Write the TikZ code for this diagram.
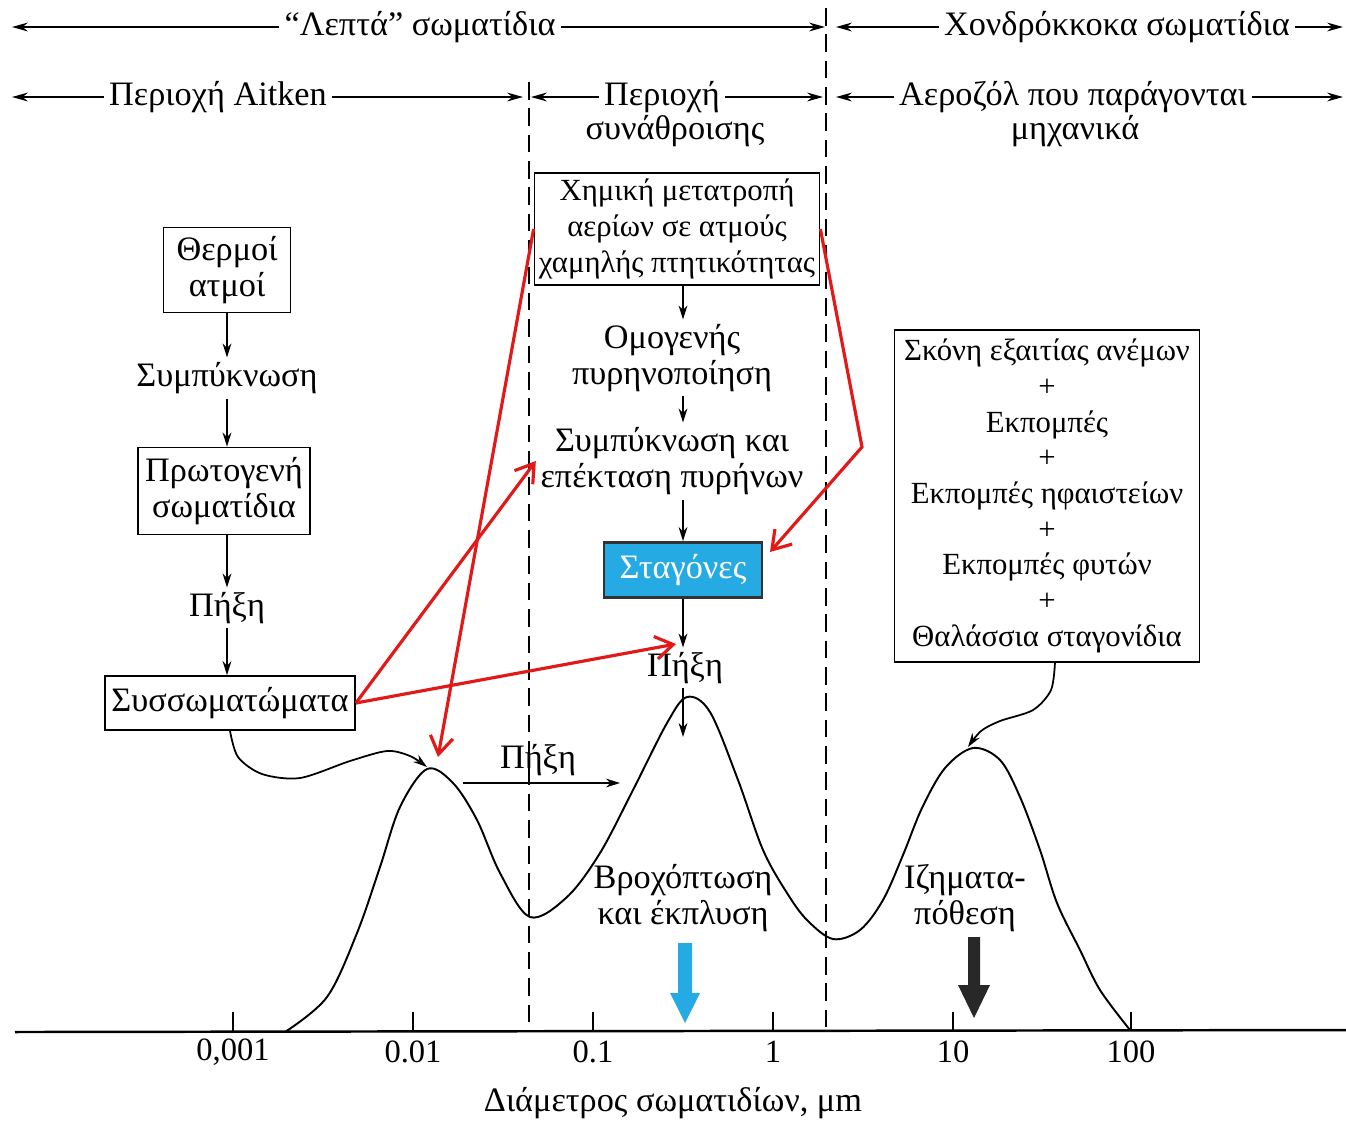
\documentclass[tikz,border=0pt]{standalone}
\usepackage{fontspec}
\setmainfont{Liberation Serif}
\usetikzlibrary{arrows.meta}
\newcommand\dtxt{\fontsize{19.5}{20.5}\selectfont}
\newcommand\btxt{\fontsize{17.5}{20.3}\selectfont}
\newcommand\ttxt{\fontsize{18.5}{20.5}\selectfont}
\definecolor{redline}{RGB}{225,25,25}
\definecolor{dropblue}{RGB}{38,170,228}
\definecolor{darkarrow}{RGB}{40,40,40}
\begin{document}
\begin{tikzpicture}[x=0.2mm,y=-0.2mm,
  every node/.style={font=\dtxt, align=center, inner sep=2.5pt},
  box/.style={draw, line width=1pt, inner sep=2pt},
  gap/.style={fill=white, inner sep=3pt},
  rangearrow/.style={<->, >={Stealth[length=9pt,width=5pt]}, line width=1pt},
  flow/.style={-{Stealth[length=8pt,width=5pt]}, line width=1pt},
  divider/.style={dash pattern=on 10pt off 5pt, line width=1.1pt},
  redarrow/.style={draw=redline, line width=1.8pt, -{Straight Barb[length=10pt,width=13pt]}},
]
\useasboundingbox (0,0) rectangle (1346,1121);

% ---------- size ranges along the top ----------
\coordinate (fineL) at (12,27);   \coordinate (fineR) at (825,27);
\coordinate (coarseL) at (836,27); \coordinate (coarseR) at (1343,27);
\coordinate (aitL) at (12,97);    \coordinate (aitR) at (523,97);
\coordinate (accL) at (531,97);   \coordinate (accR) at (823,97);
\coordinate (mecL) at (836,97);   \coordinate (mecR) at (1343,97);
\draw[rangearrow] (fineL) -- (fineR);
\draw[rangearrow] (coarseL) -- (coarseR);
\draw[rangearrow] (aitL) -- (aitR);
\draw[rangearrow] (accL) -- (accR);
\draw[rangearrow] (mecL) -- (mecR);
\node[gap] (fine) at (420,27) {“Λεπτά” σωματίδια};
\node[gap] (coarse) at (1117,27) {Χονδρόκκοκα σωματίδια};
\node[gap] (aitken) at (218,97) {Περιοχή Aitken};
\node[gap] (accum) at (662,97) {Περιοχή};
\node (accum2) at (675,131) {συνάθροισης};
\node[gap] (mech) at (1073,97) {Αεροζόλ που παράγονται};
\node (mech2) at (1075,131) {μηχανικά};

% ---------- mode boundaries ----------
\coordinate (d1top) at (529,82);  \coordinate (d1bot) at (529,1032);
\coordinate (d2top) at (826,8);   \coordinate (d2bot) at (826,1031);
\draw[divider] (d1top) -- (d1bot);
\draw[divider] (d2top) -- (d2bot);

% ---------- nucleation branch (left) ----------
\node[box, minimum width=25.4mm, minimum height=17mm] (hot) at (227,270) {Θερμοί\\ατμοί};
\node (cond) at (227,378) {Συμπύκνωση};
\node[box, minimum width=34.4mm, minimum height=17.4mm] (prim) at (224,491) {Πρωτογενή\\σωματίδια};
\node (coagA) at (227,608) {Πήξη};
\node[box, minimum width=50mm, minimum height=10.8mm] (aggr) at (230,703) {Συσσωματώματα};
\draw[flow] (hot.south -| cond) -- (cond.north);
\draw[flow] (cond.south) -- (prim.north -| cond);
\draw[flow] (prim.south -| cond) -- (coagA.north);
\draw[flow] (coagA.south) -- (aggr.north -| coagA);

% ---------- accumulation branch (middle) ----------
\node[box, font=\btxt, minimum width=57mm, minimum height=22.4mm] (chem) at (677,229)
  {Χημική μετατροπή\\αερίων σε ατμούς\\χαμηλής πτητικότητας};
\node (homog) at (672,358) {Ομογενής\\πυρηνοποίηση};
\node (grow) at (672,461) {Συμπύκνωση και\\επέκταση πυρήνων};
\node[box, fill=dropblue, text=white, draw=black!80, line width=1.6pt,
      minimum width=31.6mm, minimum height=11mm] (drops) at (683,570) {Σταγόνες};
\node (coagB) at (685,668) {Πήξη};
\coordinate (peakB) at (683,737);
\draw[flow] (chem.south -| drops) -- (homog.north -| drops);
\draw[flow] (homog.south -| drops) -- (grow.north -| drops);
\draw[flow] (grow.south -| drops) -- (drops.north);
\draw[flow] (drops.south) -- (coagB.north -| drops);
\draw[flow] (coagB.south -| drops) -- (peakB);

% ---------- coarse sources (right) ----------
\node[box, font=\btxt, minimum width=61mm, minimum height=66.4mm] (srcs) at (1047,496)
  {Σκόνη εξαιτίας ανέμων\\+\\Εκπομπές\\+\\Εκπομπές ηφαιστείων\\+\\Εκπομπές φυτών\\+\\Θαλάσσια σταγονίδια};

% ---------- axis ----------
\coordinate (ax0) at (15,1032);
\coordinate (ax1) at (1346,1030);
\draw[line width=1.4pt] (ax0) -- (ax1);
\foreach \x/\t [count=\i] in {233/{0,001},413/0.01,593/0.1,773/1,953/10,1131/100} {
  \draw[line width=1pt] (\x,1012) -- (\x,1031);
  \node[font=\ttxt] (tick\i) at (\x,1052) {\t};
}
\node (axtitle) at (673,1103) {Διάμετρος σωματιδίων, μm};

% ---------- size distribution ----------
\draw[line width=1.1pt] plot[smooth, tension=0.55] coordinates {
  (285,1032) (327,997) (357,933) (380,867) (400,807) (427,769) (453,783)
  (477,820) (500,873) (530,917) (567,897) (600,853) (633,790) (667,723)
  (687,697) (710,712) (738,780) (763,850) (787,893) (807,920) (833,939)
  (860,930) (883,900) (903,855) (922,808) (945,768) (973,748) (1000,760)
  (1020,797) (1040,850) (1057,903) (1080,950) (1100,990) (1130,1030)};

% agglomerates feed the nuclei mode
\coordinate (peakA) at (427,767);
\draw[flow] plot[smooth] coordinates {(aggr.south) (238,757) (262,774) (300,778)
  (350,761) (387,751) (410,756) (peakA)};
% coarse sources feed the coarse mode
\coordinate (srcfoot) at (1055,662);
\coordinate (peakC) at (968,747);
\draw[flow] plot[smooth] coordinates {(srcfoot) (1051,690) (1033,710) (1000,721)
  (981,731) (peakC)};

% coagulation between the fine modes
\node (coagC) at (538,760) {Πήξη};
\coordinate (cgL) at (463,783);
\coordinate (cgR) at (620,783);
\draw[flow] (cgL) -- (cgR);

% removal processes
\node (rain) at (683,898) {Βροχόπτωση\\και έκπλυση};
\node (sedi) at (965,898) {Ιζηματα-\\πόθεση};
\fill[dropblue] (678,943) -- (692,943) -- (692,993) -- (700,993) -- (685,1023)
  -- (670,993) -- (678,993) -- cycle;
\fill[darkarrow] (968,937) -- (980,937) -- (980,985) -- (990,985) -- (974,1018)
  -- (958,985) -- (968,985) -- cycle;

% ---------- red annotation arrows ----------
\coordinate (rB) at (676,644);
\coordinate (rA) at (438,757);
\coordinate (rbend) at (862,447);
\coordinate (rdrop) at (770,552);
\draw[redarrow] (aggr.east) -- (grow.west);
\draw[redarrow] (aggr.east) -- (rB);
\draw[redarrow] (chem.west) -- (rA);
\draw[redarrow] (chem.east) -- (rbend) -- (rdrop);
\end{tikzpicture}
\end{document}
